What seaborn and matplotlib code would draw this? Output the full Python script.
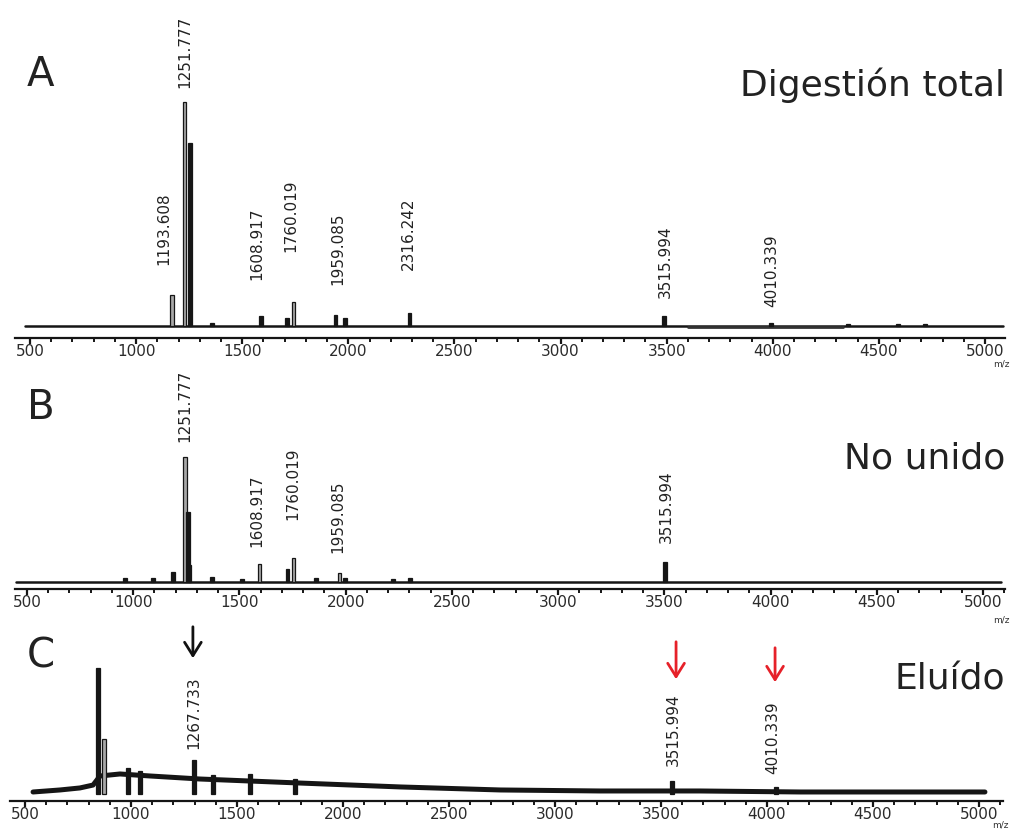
import numpy as np
import pandas as pd
import seaborn as sns
import matplotlib.pyplot as plt
from matplotlib.ticker import MultipleLocator

# ---- panel A: Digestión total ----
a_base_mz = [476, 5085]
a_base_int = [0, 0]
a_noise_mz = [3600, 4330]
a_noise_int = [-0.5, -0.5]
a_peak_mz = [1169, 1228, 1254, 1358, 1588, 1711, 1742, 1940, 1984, 2288, 3487, 3992, 4355, 4590, 4717]
a_peak_int = [13.8, 100, 81.7, 1.3, 4.5, 3.6, 10.7, 4.9, 3.6, 5.8, 4.5, 1.3, 0.9, 0.9, 0.9]
a_labels = ["1193.608", "1251.777", "1608.917", "1760.019", "1959.085", "2316.242", "3515.994", "4010.339"]
a_label_mz = [1131, 1230, 1570, 1730, 1951, 2281, 3492, 3996]

# ---- panel B: No unido ----
b_base_mz = [450, 5085]
b_base_int = [0, 0]
b_peak_mz = [961, 1093, 1187, 1244, 1258, 1266, 1371, 1512, 1594, 1726, 1754, 1860, 1971, 1997, 2223, 2303, 3503]
b_peak_int = [3.2, 3.2, 8, 100, 56, 14, 4, 2.4, 14.4, 10.4, 19.2, 3.2, 7.2, 3.2, 2.4, 3.2, 16]
b_labels = ["1251.777", "1608.917", "1760.019", "1959.085", "3515.994"]
b_label_mz = [1244, 1583, 1752, 1964, 3508]

# ---- panel C: Eluído ----
c_base_mz = [538, 665, 759, 821, 854, 948, 1090, 1325, 1561, 1797, 2269, 2741, 3212, 3684, 4156, 4627, 5028]
c_base_int = [1.6, 3.2, 4.8, 7.1, 14.3, 15.9, 14.3, 11.9, 10.3, 8.7, 5.6, 3.2, 2.4, 2.4, 1.6, 1.6, 1.6]
c_peak_mz = [844, 873, 986, 1042, 1297, 1387, 1561, 1774, 3552, 4042]
c_peak_int = [100, 44, 21, 18, 27, 15, 16, 12, 10, 5.5]
c_labels = ["1267.733", "3515.994", "4010.339"]
c_label_mz = [1297, 3557, 4028]
c_arrow_mz = [1292, 3571, 4038]
c_arrow_col = ["#111111", "#e62129", "#e62129"]

titles = ["Digestión total", "No unido", "Eluído"]
letters = ["A", "B", "C"]

sns.set_theme(style="white")
plt.rcParams["font.family"] = ["DejaVu Sans"]

W, H = 1011, 830
fig = plt.figure(figsize=(W / 100, H / 100), dpi=100)

def px_ax(left, right, top, spine):
    return fig.add_axes([left / W, 1 - spine / H, (right - left) / W, (spine - top) / H])

# layout (pixels): left, right, top, spine, baseline, px per unit, px of 500, px of 5000
layout = [
    dict(l=15, r=1005, top=40, spine=338, base=326, scale=2.24, p500=30, p5000=985),
    dict(l=15, r=1005, top=365, spine=589, base=582, scale=1.25, p500=27, p5000=983),
    dict(l=10, r=1003, top=620, spine=801, base=794, scale=1.26, p500=25, p5000=979),
]
label_lift = [[61, 238, 46, 74, 41, 56, 28, 19], [140, 35, 62, 29, 39], [45, 28, 20]]
gray_bars = [[0, 1, 6], [3, 8, 10, 12], [1]]   # outlined grey sticks, the rest are black

panels = [
    (a_base_mz, a_base_int, a_peak_mz, a_peak_int, a_labels, a_label_mz),
    (b_base_mz, b_base_int, b_peak_mz, b_peak_int, b_labels, b_label_mz),
    (c_base_mz, c_base_int, c_peak_mz, c_peak_int, c_labels, c_label_mz),
]

axes = []
for i, (bmz, bint, pmz, pint, labs, lmz) in enumerate(panels):
    L = layout[i]
    ax = px_ax(L["l"], L["r"], L["top"], L["spine"])
    s = 4500 / (L["p5000"] - L["p500"])
    ax.set_xlim(500 - (L["p500"] - L["l"]) * s, 5000 + (L["r"] - L["p5000"]) * s)
    ax.set_ylim(-(L["spine"] - L["base"]) / L["scale"], (L["base"] - L["top"]) / L["scale"])

    lw_base = 3.6 if i == 2 else 1.8
    sns.lineplot(x=bmz, y=bint, ax=ax, color="#151515", linewidth=lw_base, zorder=2)
    if i == 0:
        sns.lineplot(x=a_noise_mz, y=a_noise_int, ax=ax, color="#333333", linewidth=2.0, zorder=2)

    faces = ["#a8a8a8" if k in gray_bars[i] else "#161616" for k in range(len(pmz))]
    ax.bar(pmz, pint, width=16, color=faces, edgecolor="#161616", linewidth=0.9, zorder=3)

    for txt, mz, lift in zip(labs, lmz, label_lift[i]):
        ax.annotate(txt, xy=(mz, 0), xytext=(0, lift * 0.72), textcoords="offset points",
                    rotation=90, ha="center", va="bottom", fontsize=11, color="#222222",
                    annotation_clip=False)

    ax.xaxis.set_major_locator(MultipleLocator(500))
    ax.xaxis.set_minor_locator(MultipleLocator(100))
    ax.set_xticks(np.arange(500, 5001, 500))
    ax.set_xticklabels([str(v) for v in range(500, 5001, 500)])
    ax.tick_params(axis="x", which="major", direction="out", length=4, width=1.6,
                   pad=0.5, labelsize=11, labelcolor="#2b2b2b", color="#151515", bottom=True)
    ax.tick_params(axis="x", which="minor", direction="out", length=3, width=1.4,
                   color="#151515", bottom=True)
    ax.set_yticks([])
    ax.set_xlabel("")
    ax.set_ylabel("")
    sns.despine(ax=ax, left=True)
    ax.spines["bottom"].set_linewidth(1.6)
    ax.spines["bottom"].set_color("#151515")
    ax.patch.set_alpha(0)
    axes.append(ax)

# arrows over panel C
axC = axes[2]
scC = layout[2]["scale"]
for mz, col, head, tail in zip(c_arrow_mz, c_arrow_col, [133, 112, 109], [170, 155, 149]):
    axC.annotate("", xy=(mz, head / scC), xytext=(mz, tail / scC),
                 arrowprops=dict(arrowstyle="->,head_length=0.8,head_width=0.5",
                                 color=col, lw=2, mutation_scale=12),
                 annotation_clip=False)

# titles, panel letters, m/z labels
for t, yc in zip(titles, [85, 458, 679]):
    fig.text(1005 / W, 1 - yc / H, t, ha="right", va="center", fontsize=26, color="#222222")
for t, yc in zip(letters, [75, 408, 656]):
    fig.text(27 / W, 1 - yc / H, t, ha="left", va="center", fontsize=29, color="#222222")
for x, yc in zip([1001, 1001], [364, 620]):
    fig.text(x / W, 1 - yc / H, "m/z", ha="center", va="center", fontsize=6.5, color="#333333")
fig.text(1009 / W, 1 - 825 / H, "m/z", ha="right", va="center", fontsize=6.5, color="#333333")

fig.savefig("out.png", dpi=100)
